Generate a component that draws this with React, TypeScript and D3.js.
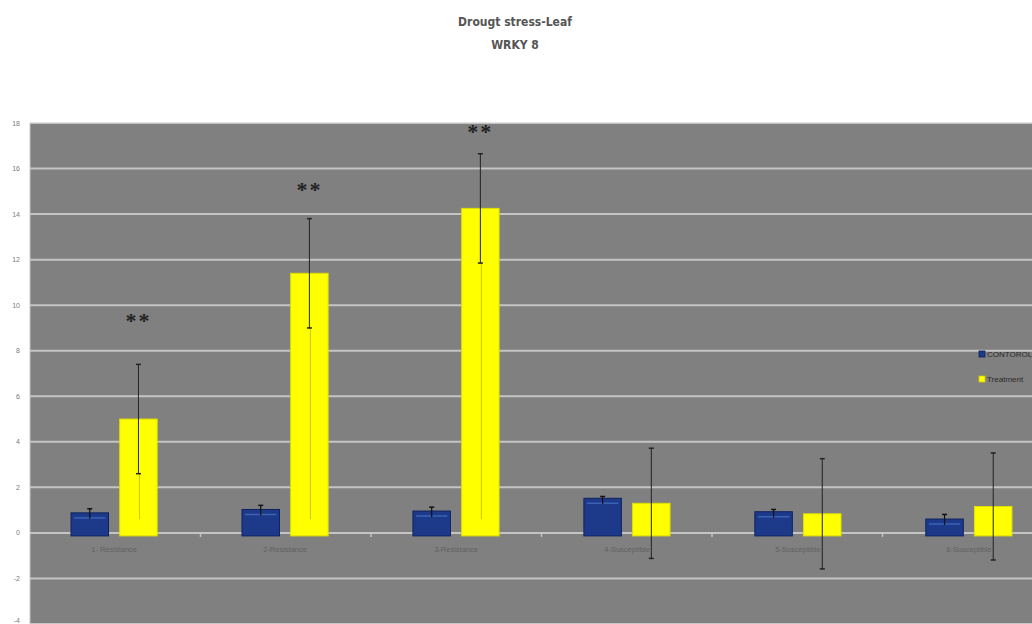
import React from "react";
import * as d3 from "d3";

const categories = ["1- Resistance", "2-Resistance", "3-Resistance", "4-Susceptible", "5-Susceptible", "6-Susceptible"];
const series = ["CONTOROL", "Treatment"];
const controlValues = [0.88, 1.03, 0.96, 1.52, 0.93, 0.61];
const controlErrors = [0.18, 0.18, 0.17, 0.08, 0.1, 0.2];
const treatmentValues = [5.0, 11.4, 14.25, 1.3, 0.84, 1.16];
const treatmentErrors = [2.4, 2.4, 2.4, 2.42, 2.42, 2.35];
const significance = ["**", "**", "**", "", "", ""];
const significanceLevel = [9.4, 15.15, 17.7, 0, 0, 0];
const yTicks = [18, 16, 14, 12, 10, 8, 6, 4, 2, 0, -2, -4];

const W = 1032;
const H = 624;
const plotLeft = 30;
const plotRight = 1053;
const plotTop = 123;
const plotBottom = 624;

export default function App() {
  const x = d3.scaleBand<string>().domain(categories).range([plotLeft, plotRight]).paddingInner(0.496).paddingOuter(0.24);
  const xs = d3.scaleBand<string>().domain(series).range([0, x.bandwidth()]).paddingInner(0.23);
  const y = d3.scaleLinear().domain([-4, 18]).range([plotBottom, plotTop]);
  const bw = xs.bandwidth();
  const y0 = y(0);

  return (
    <svg width={W} height={H} style={{ position: "absolute", left: 0, top: 0, display: "block", background: "#fff" }}
      fontFamily="'Liberation Sans', Arial, sans-serif">
      <rect x={plotLeft} y={plotTop} width={plotRight - plotLeft} height={plotBottom - plotTop} fill="#808080" />
      <line x1={plotLeft} x2={plotRight} y1={plotTop} y2={plotTop} stroke="#d8d8d8" strokeWidth={1.5} />
      <line x1={plotLeft} x2={plotLeft} y1={plotTop} y2={plotBottom} stroke="#c8c8c8" strokeWidth={1} />
      {yTicks.map((t) => (
        <g key={t}>
          {t !== 18 && (
            <line x1={plotLeft} x2={plotRight} y1={y(t)} y2={y(t)} stroke="#c4c4c4" strokeWidth={2} />
          )}
          <text x={20} y={Math.min(y(t) + 2.5, H - 1)} fontSize={7} fill="#7a7a7a" textAnchor="end">{t}</text>
        </g>
      ))}
      {categories.map((c, i) => {
        const xt = plotLeft + (i + 1) * ((plotRight - plotLeft) / categories.length);
        return <line key={c} x1={xt} x2={xt} y1={y0} y2={y0 + 4} stroke="#c4c4c4" strokeWidth={1.5} />;
      })}
      {categories.map((c, i) => {
        const gx = x(c)!;
        const bx = gx + xs(series[0])!;
        const tx = gx + xs(series[1])!;
        const cv = controlValues[i];
        const tv = treatmentValues[i];
        const cTop = y(cv);
        const tTop = y(tv);
        const cxm = bx + bw / 2;
        const txm = tx + bw / 2;
        const cErrTop = y(cv + controlErrors[i]);
        const tErrTop = y(tv + treatmentErrors[i]);
        const tErrBot = y(tv - treatmentErrors[i]);
        return (
          <g key={c}>
            <rect x={bx} y={cTop} width={bw} height={y0 - cTop + 3} fill="#1d3a8a" stroke="#0f2160" strokeWidth={1} />
            <line x1={bx + 3} x2={bx + bw - 3} y1={cTop + 5} y2={cTop + 5} stroke="#3d62b5" strokeWidth={1.5} />
            <line x1={cxm} x2={cxm} y1={cErrTop} y2={cTop + 6} stroke="#111" strokeWidth={1.2} />
            <line x1={cxm - 2.5} x2={cxm + 2.5} y1={cErrTop} y2={cErrTop} stroke="#111" strokeWidth={1.5} />
            <rect x={tx} y={tTop} width={bw} height={y0 - tTop + 3} fill="#ffff00" stroke="#dede00" strokeWidth={1} />
            {tv - treatmentErrors[i] > 0.7 && (
              <line x1={txm + 1} x2={txm + 1} y1={tErrBot} y2={y(0.6)} stroke="#c8c800" strokeWidth={1} />
            )}
            <line x1={txm} x2={txm} y1={tErrTop} y2={tErrBot} stroke="#222" strokeWidth={1} />
            <line x1={txm - 2.5} x2={txm + 2.5} y1={tErrTop} y2={tErrTop} stroke="#222" strokeWidth={1.5} />
            <line x1={txm - 2.5} x2={txm + 2.5} y1={tErrBot} y2={tErrBot} stroke="#222" strokeWidth={1.5} />
            {significance[i] && (
              <text x={txm} y={y(significanceLevel[i]) + 9} fontSize={22} fill="#222" textAnchor="middle"
                fontFamily="'Liberation Serif', serif" fontWeight="bold" letterSpacing={2}>{significance[i]}</text>
            )}
            <text x={gx + x.bandwidth() / 2} y={y0 + 19} fontSize={7.5} fill="#606060" textAnchor="middle">{c}</text>
          </g>
        );
      })}
      <rect x={979} y={351} width={6} height={6} fill="#1d3a8a" stroke="#0f2160" strokeWidth={0.8} />
      <text x={987} y={357} fontSize={8} fill="#2a2a2a">{series[0]}</text>
      <rect x={979} y={376} width={6} height={6} fill="#ffff00" stroke="#cccc00" strokeWidth={0.8} />
      <text x={987} y={382} fontSize={8} fill="#2a2a2a">{series[1]}</text>
      <text x={515} y={26} fontSize={12} fill="#555" textAnchor="middle" fontWeight="bold"
        fontFamily="'Liberation Sans Narrow', 'DejaVu Sans Condensed', 'Liberation Sans', sans-serif">Drougt stress-Leaf</text>
      <text x={515} y={49} fontSize={12} fill="#555" textAnchor="middle" fontWeight="bold"
        fontFamily="'Liberation Sans Narrow', 'DejaVu Sans Condensed', 'Liberation Sans', sans-serif">WRKY 8</text>
    </svg>
  );
}
